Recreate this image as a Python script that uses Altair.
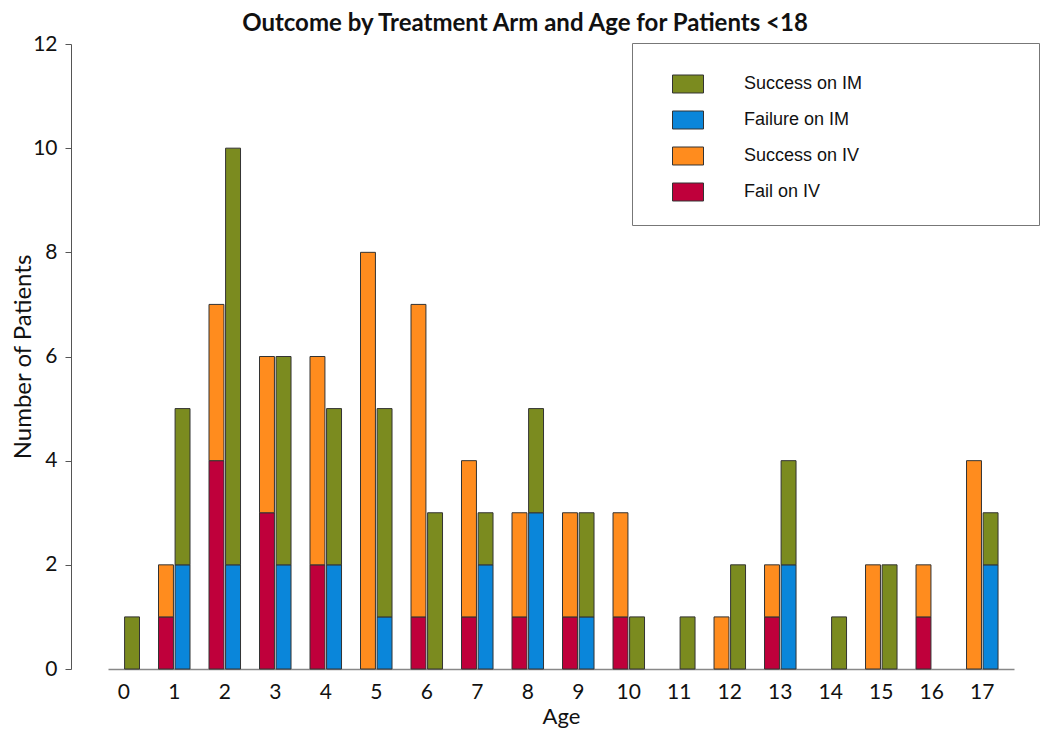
import altair as alt
import pandas as pd

ages = list(range(18))
fail_iv = [0, 1, 4, 3, 2, 0, 1, 1, 1, 1, 1, 0, 0, 1, 0, 0, 1, 0]
success_iv = [0, 1, 3, 3, 4, 8, 6, 3, 2, 2, 2, 0, 1, 1, 0, 2, 1, 4]
fail_im = [0, 2, 2, 2, 2, 1, 0, 2, 3, 1, 0, 0, 0, 2, 0, 0, 0, 2]
success_im = [1, 3, 8, 4, 3, 4, 3, 1, 2, 2, 1, 1, 2, 2, 1, 2, 0, 1]

outcomes = ["Success on IM", "Failure on IM", "Success on IV", "Fail on IV"]
colors = ["#7b8b1f", "#0a86da", "#ff8c1e", "#bf003b"]
arms = ["IV", "IM"]

series = [
    ("Fail on IV", "IV", 0, fail_iv),
    ("Success on IV", "IV", 1, success_iv),
    ("Failure on IM", "IM", 0, fail_im),
    ("Success on IM", "IM", 1, success_im),
]
rows = []
for name, arm, order, vals in series:
    for a, v in zip(ages, vals):
        if v > 0:
            rows.append({"Age": a, "Arm": arm, "Outcome": name, "Stack": order, "Count": v})
df = pd.DataFrame(rows)

FONT = "Lato"
# invisible legend title used only to widen the legend frame
spacer = "M" * 145

chart = alt.Chart(df).mark_bar(stroke="#333333", strokeWidth=1).encode(
    x=alt.X("Age:O", sort=ages,
            scale=alt.Scale(domain=ages, paddingInner=0.376, paddingOuter=0.158, align=0),
            axis=alt.Axis(title="Age", labelAngle=0, ticks=False, labelPadding=12,
                          labelFont=FONT, labelFontSize=21, labelColor="#111",
                          titleFont=FONT, titleFontSize=22, titleFontWeight="normal",
                          titleColor="#111", titlePadding=4, titleX=453, titleAlign="center",
                          domainColor="#888888", domainWidth=1.5)),
    xOffset=alt.XOffset("Arm:N", scale=alt.Scale(domain=arms, paddingInner=0.1)),
    y=alt.Y("Count:Q", stack="zero",
            scale=alt.Scale(domain=[0, 12], nice=False),
            axis=alt.Axis(title="Number of Patients", values=[0, 2, 4, 6, 8, 10, 12],
                          grid=False, offset=37, tickSize=6, labelPadding=8,
                          labelFont=FONT, labelFontSize=21, labelColor="#111",
                          titleFont=FONT, titleFontSize=24, titleFontWeight="normal",
                          titleColor="#111", titlePadding=-3,
                          domainColor="#555555", tickColor="#555555")),
    color=alt.Color("Outcome:N", scale=alt.Scale(domain=outcomes, range=colors),
                    legend=alt.Legend(title=spacer, titleFontSize=3, titleLimit=2000,
                                      titleOpacity=0, titlePadding=0,
                                      orient="none", legendX=524, legendY=-1,
                                      symbolType="M-1,-0.58H1V0.58H-1Z", symbolSize=961,
                                      symbolStrokeColor="#333333", symbolStrokeWidth=1,
                                      symbolOpacity=1, symbolOffset=18, labelOffset=40,
                                      labelFont="Liberation Sans", labelFontSize=18,
                                      labelColor="#111", rowPadding=9, padding=22,
                                      strokeColor="#777777", fillColor="white")),
    order=alt.Order("Stack:Q", sort="ascending"),
).properties(
    width=906,
    height=625,
    autosize=alt.AutoSizeParams(type="none"),
    padding={"left": 100, "top": 36, "right": 28, "bottom": 61},
    title=alt.Title("Outcome by Treatment Arm and Age for Patients <18",
                    font=FONT, fontSize=24, fontWeight="bold", color="#111",
                    anchor="middle", dx=-36, dy=3, offset=0),
).configure_view(stroke=None)

chart.save("out.html", embed_options={"renderer": "svg", "actions": False})
